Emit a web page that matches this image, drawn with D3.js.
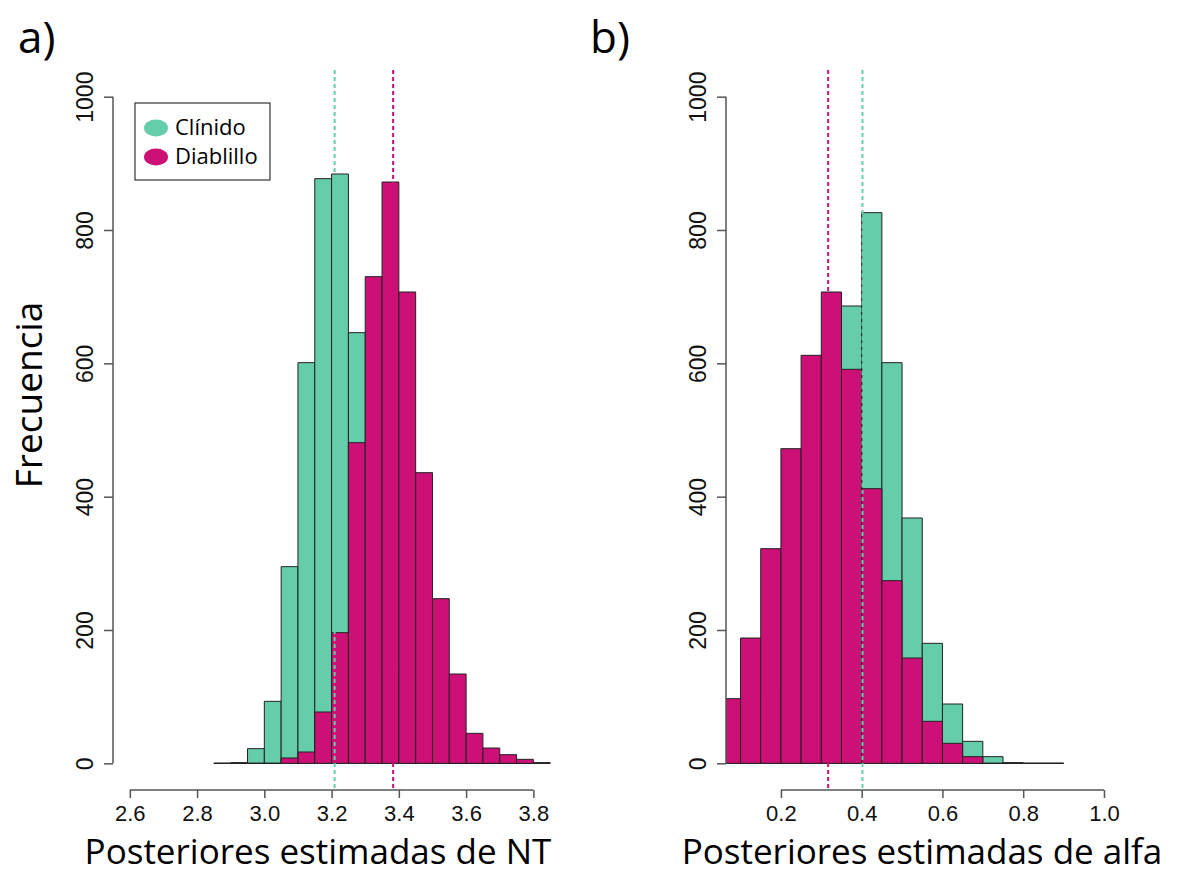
<!DOCTYPE html>
<html>
<head>
<meta charset="utf-8">
<script src="https://cdn.jsdelivr.net/npm/d3@7"></script>
<style>
body { margin: 0; background: #fff; }
</style>
</head>
<body>
<script>
// data
var series = ["Clínido", "Diablillo"];
var colors = ["#66CDAA", "#CD1076"];

var ntBins = [2.85, 2.90, 2.95, 3.00, 3.05, 3.10, 3.15, 3.20, 3.25, 3.30, 3.35, 3.40, 3.45, 3.50, 3.55, 3.60, 3.65, 3.70, 3.75, 3.80];
var clinidoNT = [0, 1, 22, 93, 295, 601, 877, 884, 646, 370, 140, 45, 12, 3, 0, 0, 0, 0, 0, 0];
var diablilloNT = [0, 0, 0, 0, 8, 17, 77, 196, 481, 730, 872, 707, 436, 247, 134, 45, 23, 13, 6, 1];
var ntMeans = [3.209, 3.383];
var ntTicks = [2.6, 2.8, 3.0, 3.2, 3.4, 3.6, 3.8];

var alfaBins = [0.05, 0.10, 0.15, 0.20, 0.25, 0.30, 0.35, 0.40, 0.45, 0.50, 0.55, 0.60, 0.65, 0.70, 0.75, 0.80, 0.85];
var clinidoAlfa = [25, 55, 110, 200, 330, 480, 686, 826, 601, 368, 180, 89, 33, 10, 1, 0, 0];
var diablilloAlfa = [97, 188, 322, 472, 612, 707, 591, 412, 274, 158, 63, 30, 10, 0, 0, 0, 0];
var alfaMeans = [0.402, 0.317];
var alfaTicks = [0.2, 0.4, 0.6, 0.8, 1.0];

var freqTicks = [0, 200, 400, 600, 800, 1000];
var binWidth = 0.05;

var width = 1195;
var height = 875;

var svg = d3.select("body")
  .append("svg")
  .attr("width", width)
  .attr("height", height);

var y = d3.scaleLinear().domain([-40, 1040]).range([790, 70]);

function panel(id, xDomain, xRange, bins, counts, means, ticks, xTitle, titleX, label, labelX) {
  var x = d3.scaleLinear().domain(xDomain).range(xRange);
  var g = svg.append("g");

  g.append("clipPath").attr("id", id)
    .append("rect")
    .attr("x", xRange[0]).attr("y", 70)
    .attr("width", xRange[1] - xRange[0]).attr("height", 720);

  var plot = g.append("g").attr("clip-path", "url(#" + id + ")");

  // bars as paths so empty bins still show as a flat line
  counts.forEach(function(c, k) {
    plot.selectAll("path.s" + k)
      .data(bins)
      .enter()
      .append("path")
      .attr("class", "s" + k)
      .attr("d", function(d, i) {
        var x0 = x(d), x1 = x(d + binWidth), y0 = y(0), y1 = y(c[i]);
        return "M" + x0 + "," + y0 + "V" + y1 + "H" + x1 + "V" + y0 + "Z";
      })
      .attr("fill", colors[k])
      .attr("stroke", "#222")
      .attr("stroke-width", 1);
  });

  plot.selectAll("line.mean")
    .data(means)
    .enter()
    .append("line")
    .attr("class", "mean")
    .attr("x1", function(d) { return x(d); })
    .attr("x2", function(d) { return x(d); })
    .attr("y1", 70)
    .attr("y2", 790)
    .attr("stroke", function(d, i) { return colors[i]; })
    .attr("stroke-width", 2)
    .attr("stroke-dasharray", "4,3");

  // y axis
  var ya = g.append("g")
    .attr("transform", "translate(" + xRange[0] + ",0)")
    .call(d3.axisLeft(y).tickValues(freqTicks).tickSize(9).tickSizeOuter(0).tickFormat(d3.format("d")));
  ya.select(".domain").remove();
  ya.append("line")
    .attr("y1", y(0)).attr("y2", y(1000))
    .attr("stroke", "#555").attr("stroke-width", 1.5);
  ya.selectAll(".tick line").attr("stroke", "#555").attr("stroke-width", 1.5);
  ya.selectAll(".tick text")
    .attr("x", null).attr("dy", null)
    .attr("transform", "translate(-20,0) rotate(-90)")
    .attr("text-anchor", "middle")
    .attr("fill", "#111")
    .style("font-family", "'Liberation Sans', Arial, sans-serif")
    .style("font-size", "23px");

  // x axis
  var xa = g.append("g")
    .attr("transform", "translate(0,790)")
    .call(d3.axisBottom(x).tickValues(ticks).tickSize(8).tickSizeOuter(0).tickFormat(d3.format(".1f")));
  xa.select(".domain").remove();
  xa.append("line")
    .attr("x1", x(ticks[0])).attr("x2", x(ticks[ticks.length - 1]))
    .attr("stroke", "#555").attr("stroke-width", 1.5);
  xa.selectAll(".tick line").attr("stroke", "#555").attr("stroke-width", 1.5);
  xa.selectAll(".tick text")
    .attr("y", 31).attr("dy", null)
    .attr("fill", "#111")
    .style("font-family", "'Liberation Sans', Arial, sans-serif")
    .style("font-size", "22px");

  svg.append("text")
    .attr("x", titleX).attr("y", 864)
    .attr("text-anchor", "middle")
    .style("font-family", "'Open Sans', sans-serif")
    .style("font-size", "35px")
    .text(xTitle);

  svg.append("text")
    .attr("x", labelX).attr("y", 53)
    .style("font-family", "'Open Sans', sans-serif")
    .style("font-size", "44px")
    .text(label);

  return x;
}

panel("clipA", [2.55, 3.9], [113, 567], ntBins, [clinidoNT, diablilloNT], ntMeans, ntTicks,
  "Posteriores estimadas de NT", 318, "a)", 18);
panel("clipB", [0.064, 1.036], [726, 1118.5], alfaBins, [clinidoAlfa, diablilloAlfa], alfaMeans, alfaTicks,
  "Posteriores estimadas de alfa", 922, "b)", 590);

svg.append("text")
  .attr("transform", "translate(42,395) rotate(-90)")
  .attr("text-anchor", "middle")
  .style("font-family", "'Open Sans', sans-serif")
  .style("font-size", "37px")
  .text("Frecuencia");

// legend
var legend = svg.append("g");
legend.append("rect")
  .attr("x", 135).attr("y", 103)
  .attr("width", 135).attr("height", 77)
  .attr("fill", "#fff")
  .attr("stroke", "#333")
  .attr("stroke-width", 1.2);

var items = legend.selectAll("g.item")
  .data(series)
  .enter()
  .append("g")
  .attr("class", "item")
  .attr("transform", function(d, i) { return "translate(0," + (i * 29) + ")"; });

items.append("ellipse")
  .attr("cx", 156).attr("cy", 128)
  .attr("rx", 12).attr("ry", 8.5)
  .attr("fill", function(d, i) { return colors[i]; });

items.append("text")
  .attr("x", 175).attr("y", 135)
  .style("font-family", "'Open Sans', sans-serif")
  .style("font-size", "22px")
  .text(function(d) { return d; });
</script>
</body>
</html>
